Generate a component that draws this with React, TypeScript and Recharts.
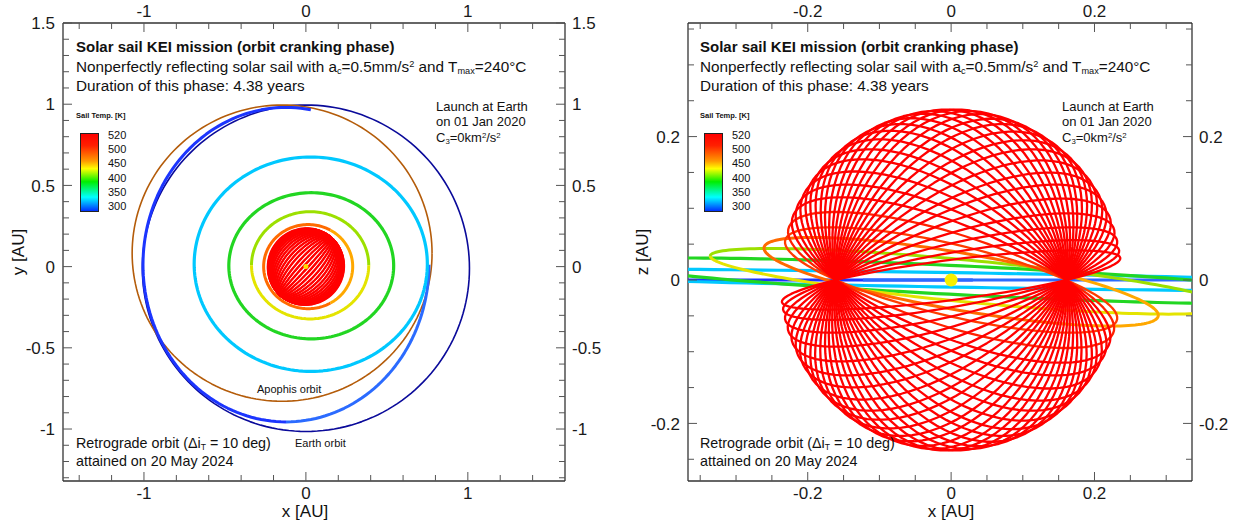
import React from "react";
import { ScatterChart, Scatter, XAxis, YAxis, ReferenceDot } from "recharts";

// orbit rings seen from above (AU)
const ringCx = [0, -0.147, -0.123, -0.123, 0.03, 0.033, 0.026, 0.026, 0.014, 0.014];
const ringCy = [-0.01, 0.083, 0.012, 0.012, 0.015, 0.005, 0.008, 0.008, 0, 0];
const ringRx = [1.01, 0.926, 0.883, 0.883, 0.72, 0.509, 0.362, 0.362, 0.275, 0.275];
const ringRy = [1.005, 0.912, 0.968, 0.968, 0.66, 0.45, 0.33, 0.33, 0.259, 0.259];
const ringFrom = [0, 0, 80, 270, 0, 0, 0, 180, 60, -60];
const ringTo = [360, 360, 270, 360, 360, 360, 180, 360, 300, 60];
// inclination in degrees (null = not drawn in the x-z view)
const ringIncl: (number | null)[] = [0, null, 0, 0, 1.3, 3.8, 7.5, 7.5, 13, 13];
const ringColor = ["#0a0a9a", "#b45c0a", "#1c35ff", "#2b6bff", "#00c8ff", "#22d622", "#9ce000", "#e4e400", "#ff6a00", "#ffa800"];
const ringWidth = [1.6, 1.6, 3, 3, 3.2, 3.2, 3, 3, 3, 3];

// cranking loops: inclination of each revolution (deg)
const loopIncl = [18, 23.5, 29, 34, 39.5, 45, 50, 55.5, 61, 66, 71.5, 77, 82, 87.5, 93, 98, 103.5, 109, 114, 119.5, 125, 130, 135.5, 141, 146, 151.5, 157, 162, 166.5, 170];
const loopColor = ["#ff3c00", "#ff2200"];
const loopRadius = 0.238;
const nodeAngle = 47.5;

// axis ticks
const xyMajorX = [-1, 0, 1];
const xyMinorX = [-1.4, -1.2, -0.8, -0.6, -0.4, -0.2, 0.2, 0.4, 0.6, 0.8, 1.2, 1.4];
const xyMajorY = [-1, -0.5, 0, 0.5, 1, 1.5];
const xyMinorY = [-1.3, -1.2, -1.1, -0.9, -0.8, -0.7, -0.6, -0.4, -0.3, -0.2, -0.1, 0.1, 0.2, 0.3, 0.4, 0.6, 0.7, 0.8, 0.9, 1.1, 1.2, 1.3, 1.4];
const xzMajorX = [-0.2, 0, 0.2];
const xzMinorX = [-0.35, -0.3, -0.25, -0.15, -0.1, -0.05, 0.05, 0.1, 0.15, 0.25, 0.3];
const xzMajorY = [-0.2, 0, 0.2];
const xzMinorY = [-0.25, -0.15, -0.1, -0.05, 0.05, 0.1, 0.15, 0.25, 0.3, 0.35];

const tempLabels = ["520", "500", "450", "400", "350", "300"];

const FONT = "'Liberation Sans', Arial, Helvetica, sans-serif";
const deg = Math.PI / 180;

type Pt = { x: number; y: number };

function ringPoints(k: number, view: "xy" | "xz"): Pt[] {
  const pts: Pt[] = [];
  const span = ringTo[k] - ringFrom[k];
  const n = Math.max(10, Math.round(span / 2));
  const om = nodeAngle * deg;
  const inc = (ringIncl[k] ?? 0) * deg;
  for (let j = 0; j <= n; j++) {
    const a = (ringFrom[k] + (span * j) / n) * deg;
    const x = ringCx[k] + ringRx[k] * Math.cos(a);
    const y = ringCy[k] + ringRy[k] * Math.sin(a);
    pts.push(view === "xy" ? { x, y } : { x, y: Math.tan(inc) * (y * Math.cos(om) - x * Math.sin(om)) });
  }
  return pts;
}

// circle of radius loopRadius tilted about the node line
function loopPoints(incl: number, view: "xy" | "xz"): Pt[] {
  const pts: Pt[] = [];
  const om = nodeAngle * deg;
  const i = incl * deg;
  for (let t = 0; t <= 360; t += 4) {
    const c = Math.cos(t * deg) * loopRadius;
    const s = Math.sin(t * deg) * loopRadius;
    const x = c * Math.cos(om) - s * Math.sin(om) * Math.cos(i);
    const y = c * Math.sin(om) + s * Math.cos(om) * Math.cos(i);
    const z = s * Math.sin(i);
    pts.push(view === "xy" ? { x, y } : { x, y: z });
  }
  return pts;
}

const noShape = () => <g />;

function makeTick(side: "bottom" | "top" | "left" | "right", majors: number[]) {
  return (props: any) => {
    const { x, y, payload } = props;
    const v = payload.value as number;
    const big = majors.some((m) => Math.abs(m - v) < 1e-6);
    const len = big ? 9 : 6;
    const txt = { fontSize: 17, fill: "#1a1a1a", fontFamily: FONT } as const;
    if (side === "bottom")
      return (
        <g>
          <line x1={x} y1={y} x2={x} y2={y - len} stroke="#555" />
          {big && <text x={x} y={y + 18} textAnchor="middle" {...txt}>{String(v)}</text>}
        </g>
      );
    if (side === "top")
      return (
        <g>
          <line x1={x} y1={y} x2={x} y2={y + len} stroke="#555" />
          {big && <text x={x} y={y - 6} textAnchor="middle" {...txt}>{String(v)}</text>}
        </g>
      );
    if (side === "left")
      return (
        <g>
          <line x1={x} y1={y} x2={x + len} y2={y} stroke="#555" />
          {big && <text x={x - 8} y={y} dy="0.36em" textAnchor="end" {...txt}>{String(v)}</text>}
        </g>
      );
    return (
      <g>
        <line x1={x} y1={y} x2={x - len} y2={y} stroke="#555" />
        {big && <text x={x + 7} y={y} dy="0.36em" textAnchor="start" {...txt}>{String(v)}</text>}
      </g>
    );
  };
}

function Panel(props: {
  view: "xy" | "xz";
  width: number;
  margin: { top: number; left: number; right: number; bottom: number };
  domX: [number, number];
  domY: [number, number];
  majX: number[];
  minX: number[];
  majY: number[];
  minY: number[];
}) {
  const { view, width, margin, domX, domY, majX, minX, majY, minY } = props;
  const tx = [...minX, ...majX].sort((a, b) => a - b);
  const ty = [...minY, ...majY].sort((a, b) => a - b);
  const axisCommon = {
    type: "number" as const,
    allowDataOverflow: true,
    interval: 0 as const,
    tickSize: 0,
    tickMargin: 0,
    tickLine: false,
    axisLine: { stroke: "#333", strokeWidth: 1.3 },
  };
  const rings = ringColor.map((_, k) => k).filter((k) => view === "xy" || ringIncl[k] !== null);
  return (
    <ScatterChart width={width} height={525} margin={margin}>
      <XAxis xAxisId="b" orientation="bottom" dataKey="x" domain={domX} ticks={tx} height={1} tick={makeTick("bottom", majX)} {...axisCommon} />
      <XAxis xAxisId="t" orientation="top" dataKey="x" domain={domX} ticks={tx} height={1} tick={makeTick("top", majX)} {...axisCommon} />
      <YAxis yAxisId="l" orientation="left" dataKey="y" domain={domY} ticks={ty} width={1} tick={makeTick("left", majY)} {...axisCommon} />
      <YAxis yAxisId="r" orientation="right" dataKey="y" domain={domY} ticks={ty} width={1} tick={makeTick("right", majY)} {...axisCommon} />
      {rings.map((k) => (
        <Scatter
          key={"ring" + k}
          xAxisId="b"
          yAxisId="l"
          data={ringPoints(k, view)}
          fill={ringColor[k]}
          line={{ stroke: ringColor[k], strokeWidth: ringWidth[k], strokeLinejoin: "round" }}
          lineType="joint"
          shape={noShape}
          isAnimationActive={false}
        />
      ))}
      {loopIncl.map((inc, j) => {
        const col = loopColor[j] ?? "#ff0000";
        return (
          <Scatter
            key={"loop" + j}
            xAxisId="b"
            yAxisId="l"
            data={loopPoints(inc, view)}
            fill={col}
            line={{ stroke: col, strokeWidth: view === "xy" ? 2 : 2.3, strokeLinejoin: "round" }}
            lineType="joint"
            shape={noShape}
            isAnimationActive={false}
          />
        );
      })}
      <ReferenceDot xAxisId="b" yAxisId="l" x={0} y={0} r={view === "xy" ? 2.5 : 6.5} fill={view === "xy" ? "#ffdd00" : "#f6f000"} stroke="none" />
    </ScatterChart>
  );
}

const abs = (left: number, top: number, extra: React.CSSProperties = {}): React.CSSProperties => ({
  position: "absolute",
  left,
  top,
  whiteSpace: "nowrap",
  fontFamily: FONT,
  color: "#111",
  ...extra,
});

const subS: React.CSSProperties = { fontSize: "0.6em", verticalAlign: "-0.25em", lineHeight: 0 };
const supS: React.CSSProperties = { fontSize: "0.6em", verticalAlign: "0.55em", lineHeight: 0 };

function Notes({ x0, launchX }: { x0: number; launchX: number }) {
  return (
    <>
      <div style={abs(x0, 37, { fontSize: 15, lineHeight: "20px", fontWeight: "bold" })}>Solar sail KEI mission (orbit cranking phase)</div>
      <div style={abs(x0, 57, { fontSize: 15.3, lineHeight: "20px" })}>
        Nonperfectly reflecting solar sail with a<span style={subS}>c</span>=0.5mm/s<span style={supS}>2</span> and T<span style={subS}>max</span>=240°C
      </div>
      <div style={abs(x0, 76, { fontSize: 15.3, lineHeight: "20px" })}>Duration of this phase: 4.38 years</div>
      <div style={abs(launchX, 98.5, { fontSize: 13, lineHeight: "15.5px" })}>
        Launch at Earth
        <br />
        on 01 Jan 2020
        <br />
        C<span style={subS}>3</span>=0km<span style={supS}>2</span>/s<span style={supS}>2</span>
      </div>
      <div style={abs(x0, 434, { fontSize: 14.3, lineHeight: "18px" })}>
        Retrograde orbit (Δi<span style={subS}>T</span> = 10 deg)
        <br />
        attained on 20 May 2024
      </div>
      <div style={abs(x0, 110, { fontSize: 7.5, lineHeight: "11px", fontWeight: "bold" })}>Sail Temp. [K]</div>
      <div
        style={abs(x0 + 4, 133, {
          width: 19,
          height: 79,
          boxSizing: "border-box",
          border: "1px solid #222",
          background: "linear-gradient(to bottom, #ff0000 0%, #ff2000 15%, #ff9900 35%, #ffff00 45%, #00ee00 62%, #00ffff 82%, #0030ff 100%)",
        })}
      />
      {tempLabels.map((t, i) => (
        <div key={t} style={abs(x0 + 32, 128 + i * 14.2, { fontSize: 11, lineHeight: "14px" })}>
          {t}
        </div>
      ))}
    </>
  );
}

export default function App() {
  return (
    <div style={{ position: "absolute", left: 0, top: 0, width: 1241, height: 525, background: "#fff", overflow: "hidden" }}>
      <div style={{ position: "absolute", left: 0, top: 0 }}>
        <Panel
          view="xy"
          width={620}
          margin={{ top: 22, left: 62, right: 54, bottom: 43 }}
          domX={[-1.5, 1.6]}
          domY={[-1.32, 1.5]}
          majX={xyMajorX}
          minX={xyMinorX}
          majY={xyMajorY}
          minY={xyMinorY}
        />
      </div>
      <div style={{ position: "absolute", left: 620, top: 0 }}>
        <Panel
          view="xz"
          width={621}
          margin={{ top: 22, left: 67, right: 48, bottom: 43 }}
          domX={[-0.367, 0.336]}
          domY={[-0.2803, 0.3584]}
          majX={xzMajorX}
          minX={xzMinorX}
          majY={xzMajorY}
          minY={xzMinorY}
        />
      </div>
      <Notes x0={76} launchX={436} />
      <Notes x0={700} launchX={1062} />
      <div style={abs(257, 381, { fontSize: 11, lineHeight: "16px" })}>Apophis orbit</div>
      <div style={abs(295, 435, { fontSize: 11, lineHeight: "16px" })}>Earth orbit</div>
      <div style={abs(305, 504, { fontSize: 17, lineHeight: "16px", transform: "translateX(-50%)" })}>x [AU]</div>
      <div style={abs(951, 504, { fontSize: 17, lineHeight: "16px", transform: "translateX(-50%)" })}>x [AU]</div>
      <div style={abs(19, 252, { fontSize: 17, lineHeight: "22px", transform: "translate(-50%, -50%) rotate(-90deg)" })}>y [AU]</div>
      <div style={abs(643, 252, { fontSize: 17, lineHeight: "22px", transform: "translate(-50%, -50%) rotate(-90deg)" })}>z [AU]</div>
    </div>
  );
}
